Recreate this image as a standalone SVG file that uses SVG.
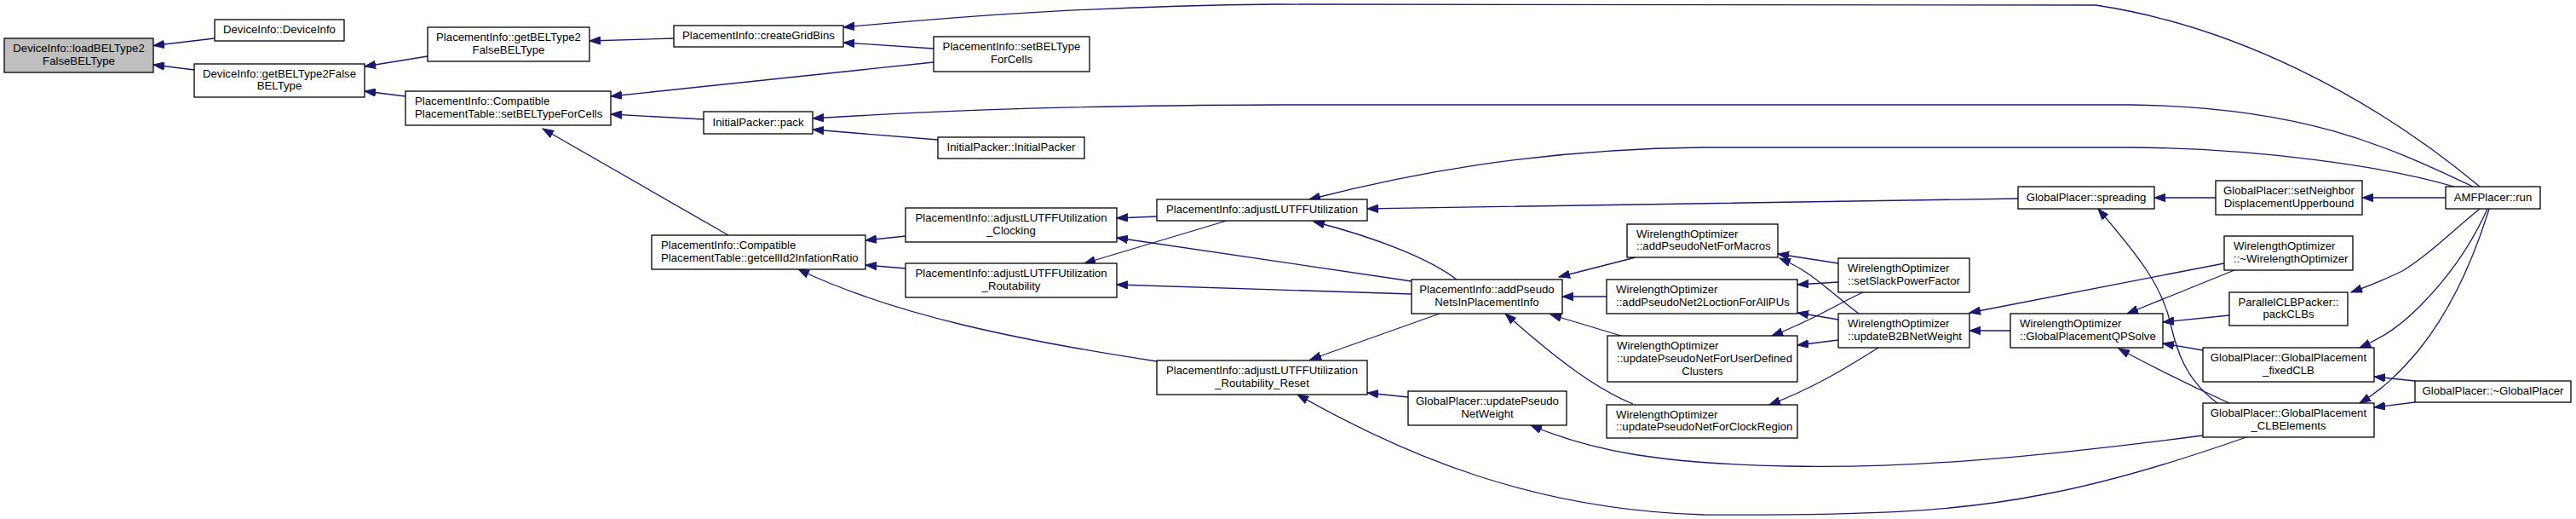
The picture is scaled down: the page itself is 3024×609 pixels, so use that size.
<svg xmlns="http://www.w3.org/2000/svg" width="3024" height="609" viewBox="0 0 3024 609">
<defs>
<style>
.n rect{fill:#fff;stroke:#000;stroke-width:1.3}
.root rect{fill:#bfbfbf}
text{font-family:"Liberation Sans",Arial,Helvetica,sans-serif;font-size:13.2px;fill:#000}
.c{text-anchor:middle}
.l{text-anchor:start}
.e path{fill:none;stroke:#191970;stroke-width:1.3;marker-end:url(#ah)}
</style>
<marker id="ah" viewBox="0 0 14 10" refX="13" refY="5" markerWidth="14" markerHeight="10" markerUnits="userSpaceOnUse" orient="auto">
<path d="M0,0.3 L13,5 L0,9.7 Z" fill="#191970" stroke="#191970" stroke-width="1"/>
</marker>
</defs>
<rect width="3024" height="609" fill="#fff"/>
<g id="edges" class="e">
<path d="M252,45 L180,53.5"/>
<path d="M228,82 L180,76"/>
<path d="M502,66 L428,78"/>
<path d="M476,113 L428,107"/>
<path d="M791,45 L692,48"/>
<path d="M2911,219 C2780,110 2620,30 2460,6 L1500,5 C1300,7 1150,17 990,32"/>
<path d="M1096,57 L990,50"/>
<path d="M1096,73 L717,113"/>
<path d="M826,140 L717,134"/>
<path d="M855,276 L637,151"/>
<path d="M2903,219 C2800,170 2700,125 2500,123 L1500,123 C1200,124 1050,133 954,139"/>
<path d="M1101,164 L954,152"/>
<path d="M1063,277 L1016,282"/>
<path d="M1063,315 L1016,311"/>
<path d="M1358,424 C1200,400 1050,370 937,316"/>
<path d="M1358,254 L1311,256"/>
<path d="M1657,330 L1311,279"/>
<path d="M1440,259 L1273,309"/>
<path d="M1657,345 L1311,334"/>
<path d="M2881,219 C2800,195 2650,174 2500,173 L2000,173 C1800,175 1650,205 1537,234"/>
<path d="M2369,233 C2200,235 1900,240 1605,245"/>
<path d="M1710,328 C1680,305 1620,280 1542,260"/>
<path d="M1690,368 L1538,422"/>
<path d="M1653,466 L1605,461"/>
<path d="M2637,513 C2560,540 2480,565 2400,580 C2300,600 2200,605 2000,604 C1800,598 1650,535 1523,463"/>
<path d="M1920,302 L1830,325"/>
<path d="M1886,348 L1834,348"/>
<path d="M1903,394 L1820,369"/>
<path d="M1917,474 C1870,455 1820,415 1767,368"/>
<path d="M2586,511 C2400,535 2250,550 2100,547 C1950,544 1870,530 1797,499"/>
<path d="M2158,309 L2087,298"/>
<path d="M2182,368 C2150,345 2130,320 2089,303"/>
<path d="M2158,331 L2110,334"/>
<path d="M2158,375 L2110,367"/>
<path d="M2187,343 C2160,355 2130,375 2080,394"/>
<path d="M2158,399 L2110,405"/>
<path d="M2205,408 C2170,430 2130,455 2077,475"/>
<path d="M2360,388 L2312,388"/>
<path d="M2611,309 L2312,367"/>
<path d="M2623,317 L2497,368"/>
<path d="M2617,370 L2539,378"/>
<path d="M2586,411 L2539,403"/>
<path d="M2617,473 C2570,452 2530,432 2487,409"/>
<path d="M2603,473 C2565,445 2555,410 2548,380 C2538,335 2510,300 2463,245"/>
<path d="M2601,232 L2529,232"/>
<path d="M2871,232 L2773,232"/>
<path d="M2911,245 C2880,270 2850,300 2820,318 C2800,328 2790,332 2760,343"/>
<path d="M2920,245 C2900,290 2870,330 2840,360 C2820,380 2800,395 2770,408"/>
<path d="M2922,245 C2905,300 2880,360 2840,410 C2815,440 2795,458 2770,473"/>
<path d="M2835,447 L2787,442"/>
<path d="M2835,472 L2787,478"/>
</g>
<g id="n_loadBEL" class="n root"><rect x="5" y="45" width="175" height="40"/><text class="c" x="92.5" y="61">DeviceInfo::loadBELType2</text><text class="c" x="92.5" y="76">FalseBELType</text></g>
<g id="n_DeviceInfo" class="n"><rect x="252" y="23" width="152" height="25"/><text class="c" x="328" y="39">DeviceInfo::DeviceInfo</text></g>
<g id="n_DI_getBEL" class="n"><rect x="228" y="75" width="200" height="39"/><text class="c" x="328" y="91">DeviceInfo::getBELType2False</text><text class="c" x="328" y="105">BELType</text></g>
<g id="n_PI_getBEL" class="n"><rect x="502" y="32" width="190" height="40"/><text class="c" x="597" y="48">PlacementInfo::getBELType2</text><text class="c" x="597" y="63">FalseBELType</text></g>
<g id="n_CPT_setBEL" class="n"><rect x="476" y="107" width="241" height="40"/><text class="l" x="487" y="123">PlacementInfo::Compatible</text><text class="l" x="487" y="138">PlacementTable::setBELTypeForCells</text></g>
<g id="n_createGridBins" class="n"><rect x="791" y="30" width="199" height="25"/><text class="c" x="890.5" y="46">PlacementInfo::createGridBins</text></g>
<g id="n_PI_setBEL" class="n"><rect x="1096" y="43" width="183" height="41"/><text class="c" x="1187.5" y="59">PlacementInfo::setBELType</text><text class="c" x="1187.5" y="74">ForCells</text></g>
<g id="n_pack" class="n"><rect x="826" y="131" width="128" height="26"/><text class="c" x="890" y="148">InitialPacker::pack</text></g>
<g id="n_InitialPacker" class="n"><rect x="1101" y="161" width="172" height="25"/><text class="c" x="1187" y="177">InitialPacker::InitialPacker</text></g>
<g id="n_getcellId" class="n"><rect x="765" y="276" width="251" height="40"/><text class="l" x="776" y="292">PlacementInfo::Compatible</text><text class="l" x="776" y="307">PlacementTable::getcellId2InfationRatio</text></g>
<g id="n_Clocking" class="n"><rect x="1063" y="244" width="248" height="40"/><text class="c" x="1187" y="260">PlacementInfo::adjustLUTFFUtilization</text><text class="c" x="1187" y="275">_Clocking</text></g>
<g id="n_Routability" class="n"><rect x="1063" y="309" width="248" height="40"/><text class="c" x="1187" y="325">PlacementInfo::adjustLUTFFUtilization</text><text class="c" x="1187" y="340">_Routability</text></g>
<g id="n_adjustLUTFF" class="n"><rect x="1358" y="234" width="247" height="25"/><text class="c" x="1481.5" y="250">PlacementInfo::adjustLUTFFUtilization</text></g>
<g id="n_Reset" class="n"><rect x="1358" y="423" width="247" height="40"/><text class="c" x="1481.5" y="439">PlacementInfo::adjustLUTFFUtilization</text><text class="c" x="1481.5" y="454">_Routability_Reset</text></g>
<g id="n_addPseudoNets" class="n"><rect x="1657" y="328" width="177" height="40"/><text class="c" x="1745.5" y="344">PlacementInfo::addPseudo</text><text class="c" x="1745.5" y="359">NetsInPlacementInfo</text></g>
<g id="n_updatePseudoNetWeight" class="n"><rect x="1653" y="459" width="186" height="40"/><text class="c" x="1746" y="475">GlobalPlacer::updatePseudo</text><text class="c" x="1746" y="490">NetWeight</text></g>
<g id="n_Macros" class="n"><rect x="1910" y="263" width="177" height="39"/><text class="l" x="1921" y="279">WirelengthOptimizer</text><text class="l" x="1921" y="293">::addPseudoNetForMacros</text></g>
<g id="n_Loction" class="n"><rect x="1886" y="328" width="224" height="40"/><text class="l" x="1897" y="344">WirelengthOptimizer</text><text class="l" x="1897" y="359">::addPseudoNet2LoctionForAllPUs</text></g>
<g id="n_UserDefined" class="n"><rect x="1887" y="394" width="223" height="54"/><text class="l" x="1898" y="410">WirelengthOptimizer</text><text class="l" x="1898" y="425">::updatePseudoNetForUserDefined</text><text class="c" x="1998.5" y="440">Clusters</text></g>
<g id="n_ClockRegion" class="n"><rect x="1886" y="475" width="224" height="39"/><text class="l" x="1897" y="491">WirelengthOptimizer</text><text class="l" x="1897" y="505">::updatePseudoNetForClockRegion</text></g>
<g id="n_setSlack" class="n"><rect x="2158" y="303" width="154" height="40"/><text class="l" x="2169" y="319">WirelengthOptimizer</text><text class="l" x="2169" y="334">::setSlackPowerFactor</text></g>
<g id="n_B2B" class="n"><rect x="2158" y="368" width="154" height="40"/><text class="l" x="2169" y="384">WirelengthOptimizer</text><text class="l" x="2169" y="399">::updateB2BNetWeight</text></g>
<g id="n_QPSolve" class="n"><rect x="2360" y="368" width="179" height="40"/><text class="l" x="2371" y="384">WirelengthOptimizer</text><text class="l" x="2371" y="399">::GlobalPlacementQPSolve</text></g>
<g id="n_spreading" class="n"><rect x="2369" y="219" width="160" height="26"/><text class="c" x="2449" y="236">GlobalPlacer::spreading</text></g>
<g id="n_setNeighbor" class="n"><rect x="2601" y="212" width="172" height="40"/><text class="c" x="2687" y="228">GlobalPlacer::setNeighbor</text><text class="c" x="2687" y="243">DisplacementUpperbound</text></g>
<g id="n_AMF" class="n"><rect x="2871" y="219" width="111" height="26"/><text class="c" x="2926.5" y="236">AMFPlacer::run</text></g>
<g id="n_dWirelength" class="n"><rect x="2611" y="277" width="151" height="40"/><text class="l" x="2622" y="293">WirelengthOptimizer</text><text class="l" x="2622" y="308">::~WirelengthOptimizer</text></g>
<g id="n_packCLBs" class="n"><rect x="2617" y="343" width="139" height="39"/><text class="c" x="2686.5" y="359">ParallelCLBPacker::</text><text class="c" x="2686.5" y="373">packCLBs</text></g>
<g id="n_fixedCLB" class="n"><rect x="2586" y="408" width="201" height="40"/><text class="c" x="2686.5" y="424">GlobalPlacer::GlobalPlacement</text><text class="c" x="2686.5" y="439">_fixedCLB</text></g>
<g id="n_CLBElements" class="n"><rect x="2586" y="473" width="201" height="40"/><text class="c" x="2686.5" y="489">GlobalPlacer::GlobalPlacement</text><text class="c" x="2686.5" y="504">_CLBElements</text></g>
<g id="n_dGlobalPlacer" class="n"><rect x="2835" y="447" width="183" height="25"/><text class="c" x="2926.5" y="463">GlobalPlacer::~GlobalPlacer</text></g>
</svg>
